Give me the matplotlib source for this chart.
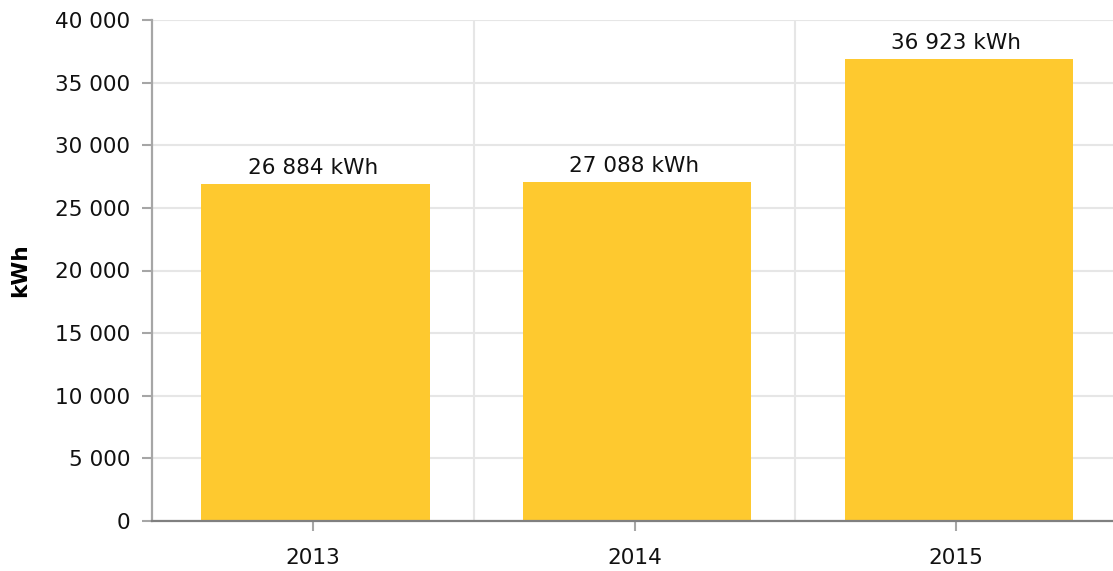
import matplotlib
matplotlib.use("Agg")
import matplotlib.pyplot as plt
from matplotlib.ticker import FuncFormatter, FixedLocator

years = ["2013", "2014", "2015"]
values = [26884, 27088, 36923]
yticks = [0, 5000, 10000, 15000, 20000, 25000, 30000, 35000, 40000]

plt.rcParams['font.family'] = ['DejaVu Sans']

fig = plt.figure(figsize=(11.13, 5.71), dpi=100)
ax = fig.add_axes([152/1113, 1 - 521/571, (1117 - 152)/1113, (521 - 20)/571])

x = list(range(len(years)))
bars = ax.bar([xi + 0.008 for xi in x], values, width=0.71, color='#FEC92F', zorder=3)

def fmt(v):
    return f"{int(v):,}".replace(",", " ")

for xi, v in zip(x, values):
    ax.text(xi, v + 480, f"{fmt(v)} kWh", ha='center', va='bottom', fontsize=15.6, color='#111111', zorder=4)

ax.set_xlim(-0.5, len(years) - 0.5)
ax.set_ylim(0, 40000)
ax.set_yticks(yticks)
ax.yaxis.set_major_formatter(FuncFormatter(lambda v, p: fmt(v)))
ax.set_xticks(x)
ax.set_xticklabels(years)
ax.xaxis.set_minor_locator(FixedLocator([0.5 + i for i in range(len(years) - 1)]))

ax.grid(axis='y', which='major', color='#E6E6E6', linewidth=1.5, zorder=0)
ax.grid(axis='x', which='minor', color='#E6E6E6', linewidth=1.5, zorder=0)
ax.tick_params(axis='x', which='minor', length=0)

for s in ['top', 'right']:
    ax.spines[s].set_visible(False)
ax.spines['left'].set_color('#A6A6A6')
ax.spines['left'].set_linewidth(1.6)
ax.spines['bottom'].set_color('#808080')
ax.spines['bottom'].set_linewidth(1.6)
ax.spines['bottom'].set_zorder(5)

ax.tick_params(axis='y', which='major', length=7.5, width=1.5, color='#A6A6A6', labelsize=15.6, pad=8, labelcolor='#111111')
ax.tick_params(axis='x', which='major', length=7.5, width=1.5, color='#A6A6A6', labelsize=15.6, pad=12, labelcolor='#111111')

ax.set_ylabel("kWh", fontsize=15.6, fontweight='bold')
ax.yaxis.set_label_coords(-0.126, 0.5)

fig.savefig("out.png", dpi=100)
